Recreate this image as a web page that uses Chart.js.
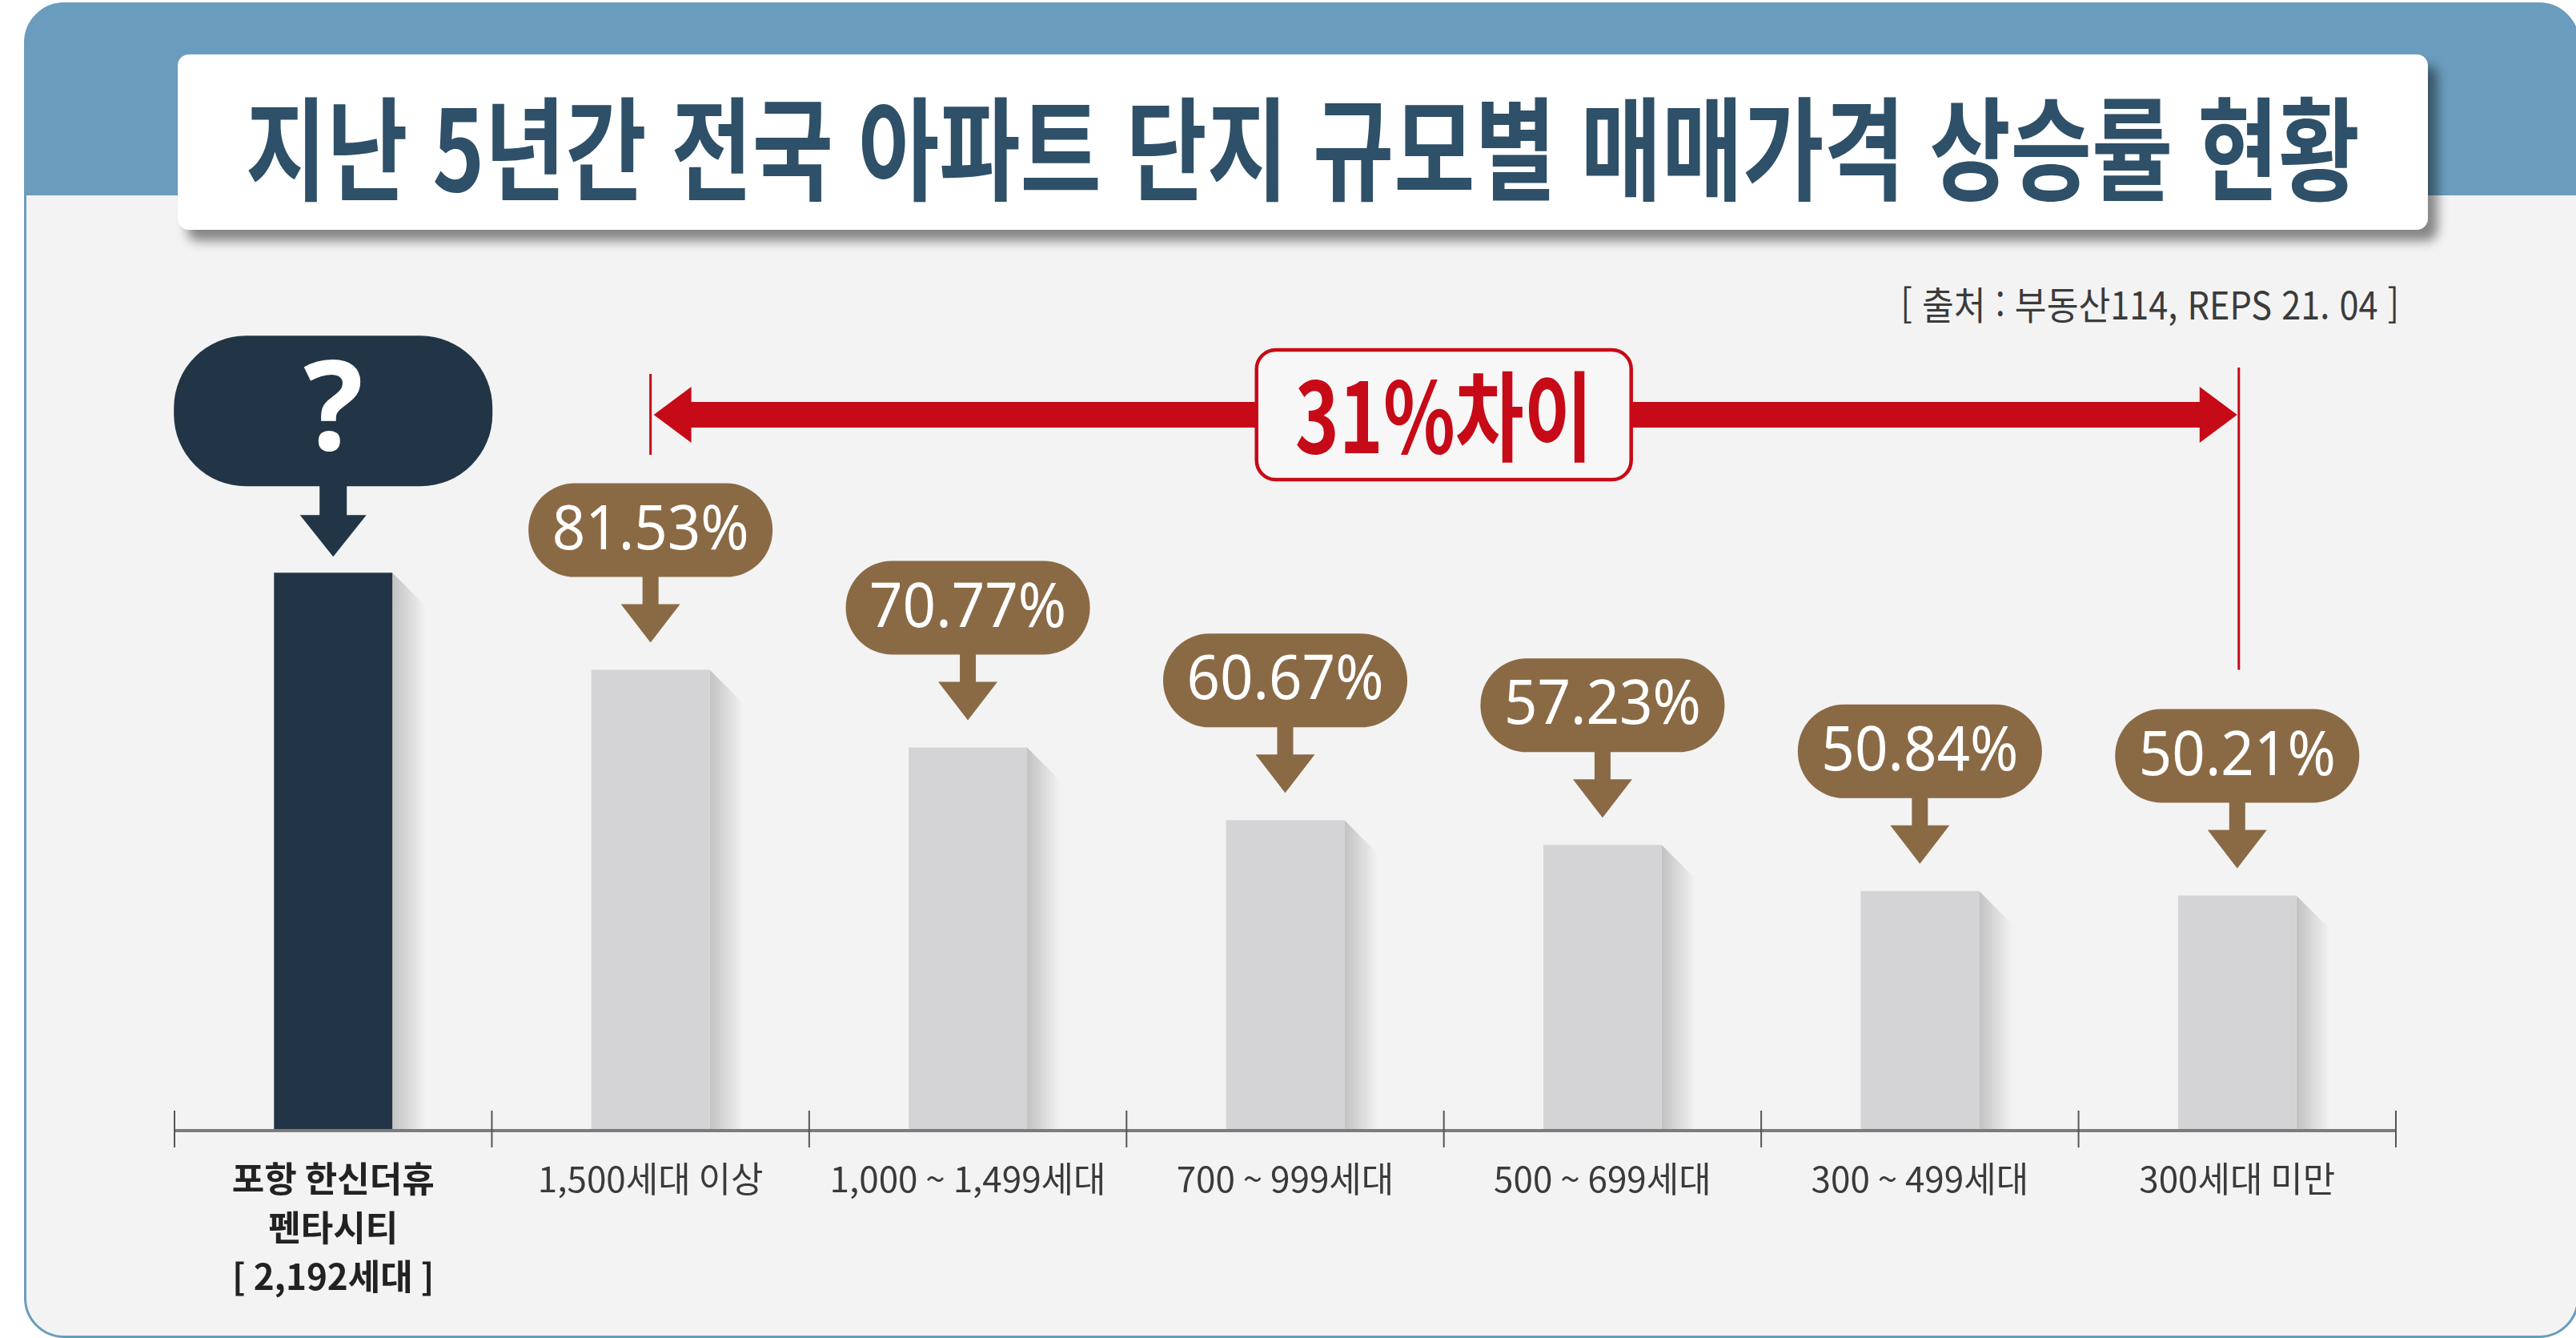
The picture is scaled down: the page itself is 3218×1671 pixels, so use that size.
<!DOCTYPE html>
<html lang="ko">
<head>
<meta charset="utf-8">
<title>지난 5년간 전국 아파트 단지 규모별 매매가격 상승률 현황</title>
<script src="https://cdn.jsdelivr.net/npm/chart.js@4.4.1/dist/chart.umd.min.js"></script>
<style>
  html, body { margin: 0; padding: 0; background: #fff; }
  body { width: 3218px; height: 1671px; position: relative; overflow: hidden;
         font-family: "Noto Sans CJK KR", "Noto Sans", sans-serif; }
  #frame { position: absolute; left: 30px; top: 3px; width: 3192px; height: 1668px; box-sizing: border-box;
           border: 3px solid #6a9dbd; border-radius: 50px;
           background: linear-gradient(#6a9dbd 0, #6a9dbd 238px, #f3f3f3 238px); }
  #titlebox { position: absolute; left: 222px; top: 68px; width: 2811px; height: 219px; background: #fff;
              border-radius: 14px; box-shadow: 12px 14px 14px rgba(0, 0, 0, 0.45);
              display: flex; align-items: center; justify-content: center; }
  #title { display: inline-block; font-weight: 700; font-size: 140px; line-height: 1; color: #2e5068; white-space: nowrap; }
  #source { position: absolute; right: 221px; top: 350px; font-size: 48px; line-height: 56px; color: #3b3b3b;
            white-space: nowrap; transform-origin: right center; }
  #chart { position: absolute; left: 0; top: 0; }
</style>
</head>
<body>
<div id="frame"></div>
<div id="titlebox"><span id="title">지난 5년간 전국 아파트 단지 규모별 매매가격 상승률 현황</span></div>
<div id="source">[ 출처 : 부동산114, REPS 21. 04 ]</div>
<canvas id="chart" width="3218" height="1671"></canvas>
<script>
// categories (apartment complex size, households)
const categories = [
  ['포항 한신더휴', '펜타시티', '[ 2,192세대 ]'],
  '1,500세대 이상',
  '1,000 ~ 1,499세대',
  '700 ~ 999세대',
  '500 ~ 699세대',
  '300 ~ 499세대',
  '300세대 미만'
];
// 5 year price rise (%). first bar is the featured complex, its value is unknown ('?'),
// height only read off the picture
const riseRates = [95, 81.53, 70.77, 60.67, 57.23, 50.84, 50.21];
const callouts = riseRates.map((v, i) => i === 0 ? '?' : v.toFixed(2) + '%');
const gapLabel = '31%차이';
const gapFrom = 1;
const gapTo = 6;

const DARK = '#213546';
const GREY = '#d4d4d6';
const BROWN = '#8a6a45';
const RED = '#c70a17';

function squeeze(el, width) {
  const w = el.getBoundingClientRect().width;
  if (w > width) el.style.transform = 'scaleX(' + (width / w).toFixed(4) + ')';
}

function roundRectPath(ctx, x, y, w, h, r) {
  r = Math.min(r, h / 2, w / 2);
  ctx.beginPath();
  ctx.moveTo(x + r, y);
  ctx.arcTo(x + w, y, x + w, y + h, r);
  ctx.arcTo(x + w, y + h, x, y + h, r);
  ctx.arcTo(x, y + h, x, y, r);
  ctx.arcTo(x, y, x + w, y, r);
  ctx.closePath();
}

function fitText(ctx, text, x, y, maxWidth) {
  const w = ctx.measureText(text).width;
  const s = Math.min(1, maxWidth / w);
  ctx.save();
  ctx.translate(x, y);
  ctx.scale(s, 1);
  ctx.fillText(text, 0, 0);
  ctx.restore();
}

function downArrow(ctx, cx, y0, stemW, headTop, headW, tip) {
  ctx.beginPath();
  ctx.moveTo(cx - stemW / 2, y0);
  ctx.lineTo(cx + stemW / 2, y0);
  ctx.lineTo(cx + stemW / 2, headTop);
  ctx.lineTo(cx + headW / 2, headTop);
  ctx.lineTo(cx, tip);
  ctx.lineTo(cx - headW / 2, headTop);
  ctx.lineTo(cx - stemW / 2, headTop);
  ctx.closePath();
  ctx.fill();
}

// soft shadow on the right side of each bar
const barShadows = {
  id: 'barShadows',
  beforeDatasetsDraw(chart) {
    const ctx = chart.ctx;
    const bottom = chart.chartArea.bottom;
    chart.getDatasetMeta(0).data.forEach(bar => {
      const right = bar.x + bar.width / 2;
      const depth = 42;
      const g = ctx.createLinearGradient(right, 0, right + depth, 0);
      g.addColorStop(0, 'rgba(0,0,0,0.20)');
      g.addColorStop(1, 'rgba(0,0,0,0)');
      ctx.save();
      ctx.fillStyle = g;
      ctx.beginPath();
      ctx.moveTo(right, bar.y);
      ctx.lineTo(right + depth, bar.y + depth);
      ctx.lineTo(right + depth, bottom);
      ctx.lineTo(right, bottom);
      ctx.closePath();
      ctx.fill();
      ctx.restore();
    });
  }
};

// base line with separators between categories
const baseAxis = {
  id: 'baseAxis',
  afterDatasetsDraw(chart) {
    const {ctx, chartArea: a, scales: {x}} = chart;
    const step = x.getPixelForTick(1) - x.getPixelForTick(0);
    ctx.save();
    ctx.strokeStyle = '#7c7c7c';
    ctx.lineWidth = 4;
    ctx.beginPath();
    ctx.moveTo(a.left, a.bottom);
    ctx.lineTo(a.right, a.bottom);
    ctx.stroke();
    ctx.strokeStyle = '#555';
    ctx.lineWidth = 2;
    for (let i = 0; i <= categories.length; i++) {
      const px = x.getPixelForTick(0) - step / 2 + i * step;
      ctx.beginPath();
      ctx.moveTo(px, a.bottom - 25);
      ctx.lineTo(px, a.bottom + 21);
      ctx.stroke();
    }
    ctx.restore();
  }
};

// value bubbles with arrows above the bars
const bubbles = {
  id: 'bubbles',
  afterDraw(chart) {
    const ctx = chart.ctx;
    const bars = chart.getDatasetMeta(0).data;
    ctx.save();
    ctx.textAlign = 'center';
    ctx.textBaseline = 'middle';
    bars.forEach((bar, i) => {
      const cx = bar.x;
      const top = bar.y;
      if (i === 0) {
        const w = 398, h = 188;
        const bottom = top - 108;
        ctx.fillStyle = DARK;
        roundRectPath(ctx, cx - w / 2, bottom - h, w, h, 90);
        ctx.fill();
        downArrow(ctx, cx, bottom - 2, 34, top - 72, 83, top - 20);
        ctx.fillStyle = '#fff';
        ctx.font = 'bold 156px "Noto Sans", sans-serif';
        ctx.fillText(callouts[i], cx, bottom - h / 2 + 4);
      } else {
        const w = 305, h = 117;
        const bottom = top - 116;
        ctx.fillStyle = BROWN;
        roundRectPath(ctx, cx - w / 2, bottom - h, w, h, 58);
        ctx.fill();
        downArrow(ctx, cx, bottom - 2, 20, top - 82, 74, top - 34);
        ctx.fillStyle = '#fff';
        ctx.font = '76px "Noto Sans", sans-serif';
        fitText(ctx, callouts[i], cx, bottom - h / 2 + 2, 246);
      }
    });
    ctx.restore();
  }
};

// red double arrow showing the gap between largest and smallest complexes
const gapArrow = {
  id: 'gapArrow',
  afterDraw(chart) {
    const {ctx, chartArea: a} = chart;
    const bars = chart.getDatasetMeta(0).data;
    const x1 = bars[gapFrom].x;
    const x2 = bars[gapTo].x;
    const y = a.top + 106;
    const lastBubbleTop = bars[gapTo].y - 116 - 117;
    ctx.save();
    ctx.strokeStyle = RED;
    ctx.fillStyle = RED;
    ctx.lineWidth = 3;
    ctx.beginPath();
    ctx.moveTo(x1, y - 51);
    ctx.lineTo(x1, y + 50);
    ctx.moveTo(x2 + 2, y - 59);
    ctx.lineTo(x2 + 2, lastBubbleTop - 49);
    ctx.stroke();
    // shaft
    ctx.fillRect(x1 + 40, y - 16, x2 - x1 - 80, 32);
    // heads
    ctx.beginPath();
    ctx.moveTo(x1 + 4, y);
    ctx.lineTo(x1 + 51, y - 35);
    ctx.lineTo(x1 + 51, y + 35);
    ctx.closePath();
    ctx.fill();
    ctx.beginPath();
    ctx.moveTo(x2, y);
    ctx.lineTo(x2 - 47, y - 35);
    ctx.lineTo(x2 - 47, y + 35);
    ctx.closePath();
    ctx.fill();
    // label box
    const bw = 468, bh = 162;
    const bx = (x1 + x2) / 2 - bw / 2;
    roundRectPath(ctx, bx, y - bh / 2, bw, bh, 24);
    ctx.fillStyle = '#f7f7f7';
    ctx.fill();
    ctx.lineWidth = 4.5;
    ctx.stroke();
    ctx.fillStyle = RED;
    ctx.textAlign = 'center';
    ctx.textBaseline = 'middle';
    ctx.font = 'bold 122px "Noto Sans CJK KR", sans-serif';
    fitText(ctx, gapLabel, bx + bw / 2, y + 2, 372);
    ctx.restore();
  }
};

squeeze(document.getElementById('title'), 2641);
squeeze(document.getElementById('source'), 623);

const ctx = document.getElementById('chart').getContext('2d');
new Chart(ctx, {
  type: 'bar',
  data: {
    labels: categories,
    datasets: [{
      data: riseRates,
      backgroundColor: riseRates.map((v, i) => i === 0 ? DARK : GREY),
      borderWidth: 0,
      barPercentage: 1,
      categoryPercentage: 0.373
    }]
  },
  options: {
    responsive: false,
    devicePixelRatio: 1,
    animation: false,
    layout: {
      padding: {top: 412, left: 218, right: 225, bottom: 0}
    },
    plugins: {
      legend: {display: false},
      tooltip: {enabled: false}
    },
    scales: {
      y: {
        display: false,
        min: 17.6,
        max: 128.7
      },
      x: {
        offset: true,
        grid: {display: false, drawTicks: false},
        border: {display: false},
        afterFit: scale => { scale.height = 259; },
        ticks: {
          autoSkip: false,
          maxRotation: 0,
          padding: 30,
          color: c => c.index === 0 ? '#222' : '#3a3a3a',
          font: c => ({
            family: '"Noto Sans CJK KR", sans-serif',
            size: 44,
            weight: c.index === 0 ? 'bold' : 'normal',
            lineHeight: '61px'
          })
        }
      }
    }
  },
  plugins: [barShadows, baseAxis, bubbles, gapArrow]
});
</script>
</body>
</html>
